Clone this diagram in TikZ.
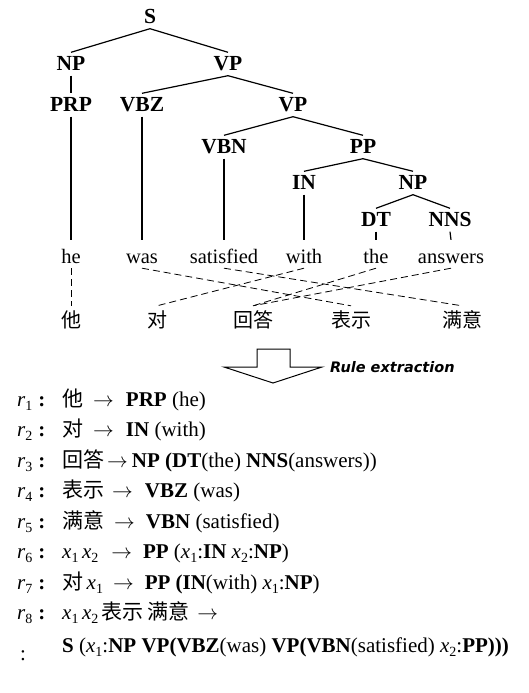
\documentclass[tikz,border=0pt]{standalone}
\usepackage{fontspec}
\setmainfont{Liberation Serif}
\newfontfamily\cjk{Noto Sans CJK SC}
\newfontfamily\extractfont{DejaVu Sans}

\newcommand{\rn}[1]{\textit{r}\raisebox{-4pt}{\fontsize{14}{14}\selectfont #1}}
\newcommand{\xn}[1]{\textit{x}\raisebox{-4pt}{\fontsize{14}{14}\selectfont #1}}

\tikzset{
  cat/.style={font=\fontsize{21.5}{24}\selectfont\bfseries, inner xsep=2pt, inner ysep=5pt, text height=13pt, text depth=0pt},
  word/.style={font=\fontsize{20.5}{24}\selectfont, anchor=base, inner xsep=2pt, inner ysep=1pt, text height=22pt, text depth=4pt},
  zh/.style={font=\fontsize{20}{24}\selectfont\cjk, anchor=base, inner xsep=2pt, inner ysep=1pt, text height=20pt, text depth=0pt},
  branch/.style={line width=1.2pt},
  link/.style={line width=0.8pt, dash pattern=on 7pt off 4pt},
  rline/.style={font=\fontsize{21}{24}\selectfont, anchor=base west, inner sep=0pt}
}

\begin{document}
\begin{tikzpicture}[x=1pt, y=-1pt]
\useasboundingbox (0,0) rectangle (528,693);

\node[cat] (s) at (150,17) {S};
\node[cat] (np) at (71,64) {NP};
\node[cat] (vp) at (228,64) {VP};
\node[cat] (prp) at (71,105) {PRP};
\node[cat] (vbz) at (142,105) {VBZ};
\node[cat] (vpb) at (293,105) {VP};
\node[cat] (vbn) at (224,147) {VBN};
\node[cat] (pp) at (363,147) {PP};
\node[cat] (prep) at (304,183) {IN};
\node[cat] (npb) at (413,183) {NP};
\node[cat] (dt) at (376,220) {DT};
\node[cat] (nns) at (450,220) {NNS};

\node[word] (he) at (71,263) {he};
\node[word] (was) at (142,263) {was};
\node[word] (satisfied) at (224,263) {satisfied};
\node[word] (with) at (304,263) {with};
\node[word] (the) at (376,263) {the};
\node[word] (answers) at (451,263) {answers};

\node[zh] (ta) at (71,327) {他};
\node[zh] (dui) at (157,327) {对};
\node[zh] (huida) at (253,327) {回答};
\node[zh] (biaoshi) at (351,327) {表示};
\node[zh] (manyi) at (462,327) {满意};

\draw[branch] (s.south) -- (np.north);
\draw[branch] (s.south) -- (vp.north);
\draw[branch] (np.south) -- (prp.north);
\draw[branch] (vp.south) -- (vbz.north);
\draw[branch] (vp.south) -- (vpb.north);
\draw[branch] (vpb.south) -- (vbn.north);
\draw[branch] (vpb.south) -- (pp.north);
\draw[branch] (pp.south) -- (prep.north);
\draw[branch] (pp.south) -- (npb.north);
\draw[branch] (npb.south) -- (dt.north);
\draw[branch] (npb.south) -- (nns.north);
\draw[branch] (prp.south) -- (he.north);
\draw[branch] (vbz.south) -- (was.north);
\draw[branch] (vbn.south) -- (satisfied.north);
\draw[branch] (prep.south) -- (with.north);
\draw[branch] (dt.south) -- (the.north);
\draw[branch] (nns.south) -- (answers.north);

\draw[link] (he.south) -- (ta.north);
\draw[link] (was.south) -- (biaoshi.north);
\draw[link] (satisfied.south) -- (manyi.north);
\draw[link] (with.south) -- (dui.north);
\draw[link] (the.south) -- (huida.north);
\draw[link] (answers.south) -- (huida.north);

\draw[line width=1pt, line join=miter] (257,349) -- (290,349) -- (290,367) -- (322,367) -- (273,383) -- (224,367) -- (257,367) -- cycle;
\node[font={\fontsize{14.5}{16}\extractfont\bfseries\itshape}, anchor=west, inner sep=0pt] (extract) at (330,367) {Rule extraction};

\node[rline] (lab1) at (17,406) {\rn{1}\hspace{6pt}\textbf{:}};
\node[rline] (lab2) at (17,436.5) {\rn{2}\hspace{6pt}\textbf{:}};
\node[rline] (lab3) at (17,467) {\rn{3}\hspace{6pt}\textbf{:}};
\node[rline] (lab4) at (17,497.5) {\rn{4}\hspace{6pt}\textbf{:}};
\node[rline] (lab5) at (17,528) {\rn{5}\hspace{6pt}\textbf{:}};
\node[rline] (lab6) at (17,558.5) {\rn{6}\hspace{6pt}\textbf{:}};
\node[rline] (lab7) at (17,589) {\rn{7}\hspace{6pt}\textbf{:}};
\node[rline] (lab8) at (17,619.5) {\rn{8}\hspace{6pt}\textbf{:}};
\node[rline] (lab9) at (20,660) {:};

\node[rline] (body1) at (62,406) {{\cjk 他}\hspace{10pt}$\rightarrow$\hspace{12pt}\textbf{PRP} (he)};
\node[rline] (body2) at (62,436.5) {{\cjk 对}\hspace{10pt}$\rightarrow$\hspace{12pt}\textbf{IN} (with)};
\node[rline] (body3) at (62,467) {{\cjk 回答}\hspace{3pt}$\rightarrow$\hspace{4pt}\textbf{NP (DT}(the) \textbf{NNS}(answers))};
\node[rline] (body4) at (62,497.5) {{\cjk 表示}\hspace{8pt}$\rightarrow$\hspace{12pt}\textbf{VBZ} (was)};
\node[rline] (body5) at (62,528) {{\cjk 满意}\hspace{10pt}$\rightarrow$\hspace{11pt}\textbf{VBN} (satisfied)};
\node[rline] (body6) at (62,558.5) {\xn{1}\,\xn{2}\hspace{13pt}$\rightarrow$\hspace{11pt}\textbf{PP} (\xn{1}:\textbf{IN} \xn{2}:\textbf{NP})};
\node[rline] (body7) at (62,589) {{\cjk 对}\,\xn{1}\hspace{10pt}$\rightarrow$\hspace{11pt}\textbf{PP (IN}(with) \xn{1}:\textbf{NP})};
\node[rline] (body8) at (62,619.5) {\xn{1}\,\xn{2}\,{\cjk 表示\,满意}\hspace{8pt}$\rightarrow$};
\node[rline] (body9) at (62,652) {\textbf{S} (\xn{1}:\textbf{NP VP(VBZ}(was) \textbf{VP(VBN}(satisfied) \xn{2}:\textbf{PP)))}};
\end{tikzpicture}
\end{document}
